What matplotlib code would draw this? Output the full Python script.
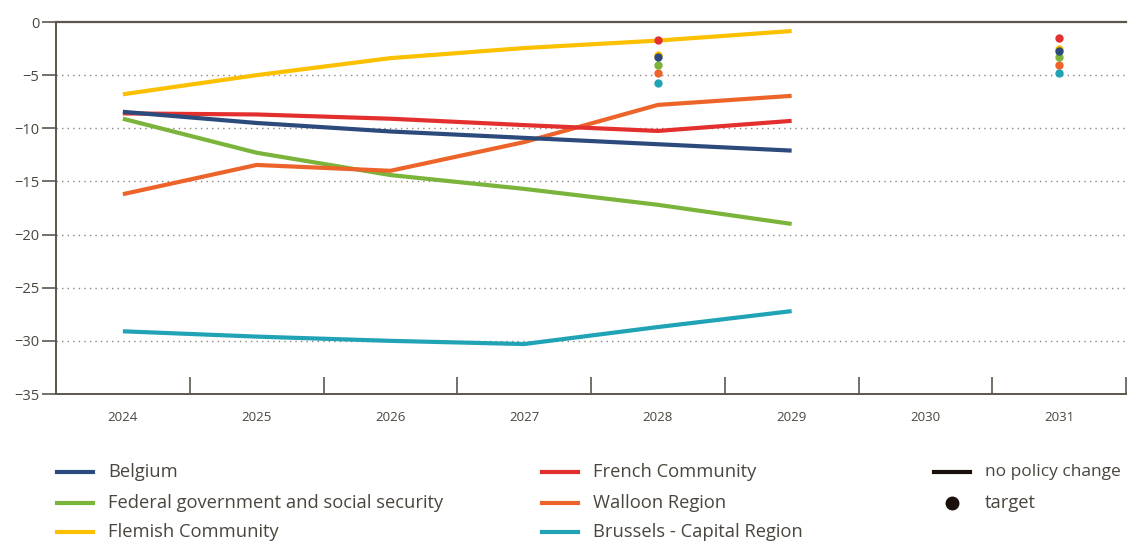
import matplotlib
matplotlib.use("Agg")
import matplotlib.pyplot as plt
from matplotlib.lines import Line2D
import numpy as np

plt.rcParams['font.family'] = ['Open Sans', 'DejaVu Sans']

years = ['2024', '2025', '2026', '2027', '2028', '2029', '2030', '2031']
line_years = ['2024', '2025', '2026', '2027', '2028', '2029']

belgium = [-8.45, -9.5, -10.3, -10.9, -11.5, -12.1]
french = [-8.6, -8.7, -9.1, -9.7, -10.25, -9.3]
federal = [-9.1, -12.3, -14.4, -15.7, -17.2, -19.0]
flemish = [-6.8, -5.0, -3.4, -2.45, -1.75, -0.85]
walloon = [-16.2, -13.45, -14.0, -11.3, -7.8, -6.95]
brussels = [-29.1, -29.6, -30.0, -30.3, -28.7, -27.2]

target_years = ['2028', '2031']
target_french = [-1.7, -1.5]
target_flemish = [-3.1, -2.55]
target_belgium = [-3.3, -2.75]
target_federal = [-4.0, -3.3]
target_walloon = [-4.8, -4.0]
target_brussels = [-5.7, -4.8]

C_BEL = '#2c4a7c'
C_FRE = '#e3302f'
C_FED = '#7ab43a'
C_FLE = '#fbc000'
C_WAL = '#ec6429'
C_BRU = '#1fa3b5'
AX = '#5b574d'
TXT = '#4a463d'

fig = plt.figure(figsize=(11.28, 5.43), dpi=100)
ax = fig.add_axes([56/1128, 1-394/543, 1070/1128, 372/543])

idx = {y: i + 0.5 for i, y in enumerate(years)}
lx = [idx[y] for y in line_years]
tx = [idx[y] for y in target_years]

series = [
    (brussels, C_BRU, 'Brussels - Capital Region'),
    (federal, C_FED, 'Federal government and social security'),
    (walloon, C_WAL, 'Walloon Region'),
    (flemish, C_FLE, 'Flemish Community'),
    (french, C_FRE, 'French Community'),
    (belgium, C_BEL, 'Belgium'),
]
for vals, c, lab in series:
    ax.plot(lx, vals, color=c, lw=3, solid_capstyle='butt', zorder=3)

targets = [
    (target_brussels, C_BRU), (target_walloon, C_WAL), (target_federal, C_FED),
    (target_flemish, C_FLE), (target_belgium, C_BEL), (target_french, C_FRE),
]
for vals, c in targets:
    ax.scatter(tx, vals, s=36, color=c, zorder=4, linewidths=0)

ax.set_xlim(0, 8)
ax.set_ylim(-35, 0)

for v in range(-30, 0, 5):
    ax.axhline(v, color='#8a867e', lw=1, ls=(0, (1, 3)), zorder=1)

for s in ['right']:
    ax.spines[s].set_visible(False)
ax.spines['top'].set_color(AX)
ax.spines['top'].set_linewidth(1.6)
ax.spines['left'].set_color(AX)
ax.spines['bottom'].set_color(AX)
ax.spines['left'].set_linewidth(1.4)
ax.spines['bottom'].set_linewidth(1.4)

ax.set_xticks(np.arange(0, 9))
ax.set_xticklabels([])
ax.tick_params(axis='x', which='major', direction='in', length=12, width=1.2, color=AX)
ax.set_xticks([idx[y] for y in years], minor=True)
ax.set_xticklabels(years, minor=True)
ax.tick_params(axis='x', which='minor', length=0, pad=12, labelsize=9.5, labelcolor=TXT)

yt = list(range(-35, 1, 5))
ax.set_yticks(yt)
ax.set_yticklabels([str(v).replace('-', '\u2212') for v in yt])
ax.tick_params(axis='y', direction='out', length=10, width=1.2, color=AX, labelsize=10.5,
               labelcolor=TXT, pad=2)

# legend
def leg_line(x, y, c, text, fs=13.2):
    fig.add_artist(Line2D([x/1128, (x+36)/1128], [1-y/543, 1-y/543], color=c, lw=3))
    fig.text((x+51)/1128, 1-y/543, text, fontsize=fs, color=TXT, va='center', ha='left')

leg_line(57, 472, C_BEL, 'Belgium')
leg_line(57, 503, C_FED, 'Federal government and social security')
leg_line(57, 532, C_FLE, 'Flemish Community')
leg_line(542, 472, C_FRE, 'French Community')
leg_line(542, 503, C_WAL, 'Walloon Region')
leg_line(542, 532, C_BRU, 'Brussels - Capital Region')
leg_line(934, 472, '#1a0f0a', 'no policy change', fs=12.5)
fig.add_artist(Line2D([952/1128], [1-503/543], marker='o', color='#1a0f0a', ms=9, lw=0))
fig.text(985/1128, 1-503/543, 'target', fontsize=13.2, color=TXT, va='center', ha='left')

fig.savefig('out.png', dpi=100)
